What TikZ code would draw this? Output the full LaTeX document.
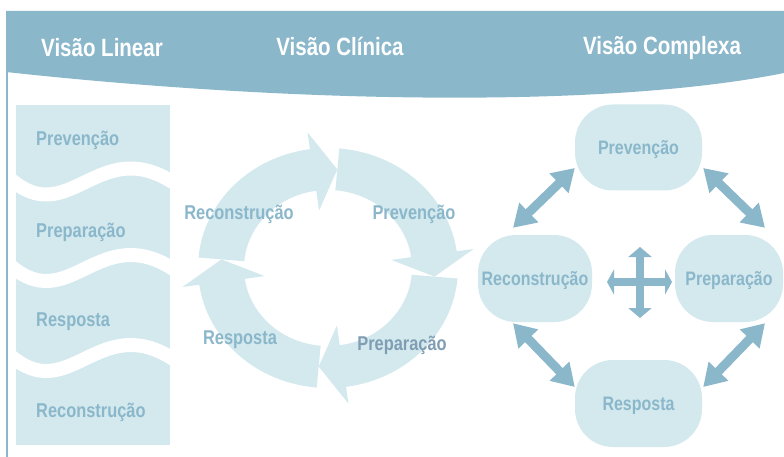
\documentclass[tikz,border=0pt]{standalone}
\usepackage{fontspec}
\setmainfont{Liberation Sans}[FakeStretch=0.82]
\usetikzlibrary{arrows.meta,calc}
\definecolor{hb}{RGB}{139,183,203}
\definecolor{lb}{RGB}{211,233,238}
\definecolor{slate}{RGB}{127,157,179}
\tikzset{
  htxt/.style={text=white, font=\bfseries\fontsize{25}{30}\selectfont, inner sep=0pt},
  ltxt/.style={text=hb, font=\bfseries\fontsize{20}{24}\selectfont, inner sep=0pt},
  rnode/.style={fill=lb, rounded corners=38pt, text=hb, inner sep=0pt, text depth=0pt,
    font=\bfseries\fontsize{19.5}{23}\selectfont},
  wave/.style={draw=white, line width=14pt},
  dbl/.style={draw=hb, line width=9pt,
    {Triangle[width=26pt,length=22pt]}-{Triangle[width=26pt,length=22pt]}},
  crossh/.style={draw=hb, line width=8.5pt,
    {Triangle[width=25pt,length=7pt]}-{Triangle[width=25pt,length=7pt]}},
  crossv/.style={draw=hb, line width=8pt,
    {Triangle[width=23pt,length=10pt]}-{Triangle[width=23pt,length=10pt]}}
}
\begin{document}
\begin{tikzpicture}[x=1pt,y=-1pt]
\useasboundingbox (0,0) rectangle (784,457);
% header band
\fill[hb] (6,11) -- (784,11) -- (784,73) .. controls (610,108) and (300,104) .. (6,72) -- cycle;
\draw[hb, line width=2.5pt] (7.2,72) -- (7.2,457);
\node[htxt] (hLin) at (102,48) {Visão Linear};
\node[htxt] (hCli) at (340,46) {Visão Clínica};
\node[htxt] (hCom) at (662,48) {Visão Complexa};
% linear view
\begin{scope}
  \clip (16,105) rectangle (170,445);
  \fill[lb] (16,105) rectangle (170,445);
  \foreach \y in {183.5,270,360}{
    \draw[wave] (10.6,\y-4) -- (16,\y) .. controls (70,\y+40) and (100,\y-45) .. (170,\y-3) -- (176,\y+0.6);
  }
\end{scope}
\node[ltxt, anchor=west] (lPrev) at (36,140) {Prevenção};
\node[ltxt, anchor=west] (lPrep) at (36,232) {Preparação};
\node[ltxt, anchor=west] (lResp) at (36,322) {Resposta};
\node[ltxt, anchor=west] (lRec) at (36,412) {Reconstrução};
% clinical cycle
\begin{scope}[shift={(328,268)}, y=1pt]
  \foreach \a in {175,85,-5,-95}{
    \pgfmathsetmacro\b{\a-77}
    \pgfmathsetmacro\c{\a-90}
    \fill[lb] (\a:130 and 120) arc[start angle=\a, end angle=\b, x radius=130, y radius=120]
      -- (\b:147 and 137) -- (\c:107 and 99) -- (\b:64 and 58) -- (\b:84 and 78)
      arc[start angle=\b, end angle=\a, x radius=84, y radius=78] -- cycle;
  }
\end{scope}
\node[ltxt] (cRec) at (239,214) {Reconstrução};
\node[ltxt] (cPrev) at (414,214) {Prevenção};
\node[ltxt] (cResp) at (240,340) {Resposta};
\node[ltxt, text=slate] (cPrep) at (402,345) {Preparação};
% complex view
\node[rnode, minimum width=127pt, minimum height=86pt] (rPrev) at (638.5,147.5) {Prevenção};
\node[rnode, minimum width=114pt, minimum height=87pt] (rRec) at (535,278.5) {Reconstrução};
\node[rnode, minimum width=108pt, minimum height=87pt] (rPrep) at (729,278.5) {Preparação};
\node[rnode, minimum width=127pt, minimum height=87pt] (rResp) at (638.5,403.5) {Resposta};
\draw[dbl] ($(rRec.north)+(-22,-7)$) -- ($(rPrev.west)+(0,20.5)$);
\draw[dbl] ($(rPrev.east)+(1,20.5)$) -- ($(rPrep.north)+(36,-7)$);
\draw[dbl] ($(rRec.south)+(-22,1)$) -- ($(rResp.west)+(0,-16.5)$);
\draw[dbl] ($(rPrep.south)+(36,1)$) -- ($(rResp.east)+(1,-16.5)$);
\coordinate (cx) at (640,282);
\draw[crossh] ($(cx)+(-33,0)$) -- ($(cx)+(32,0)$);
\draw[crossv] ($(cx)+(0,-35)$) -- ($(cx)+(0,36)$);
\end{tikzpicture}
\end{document}
